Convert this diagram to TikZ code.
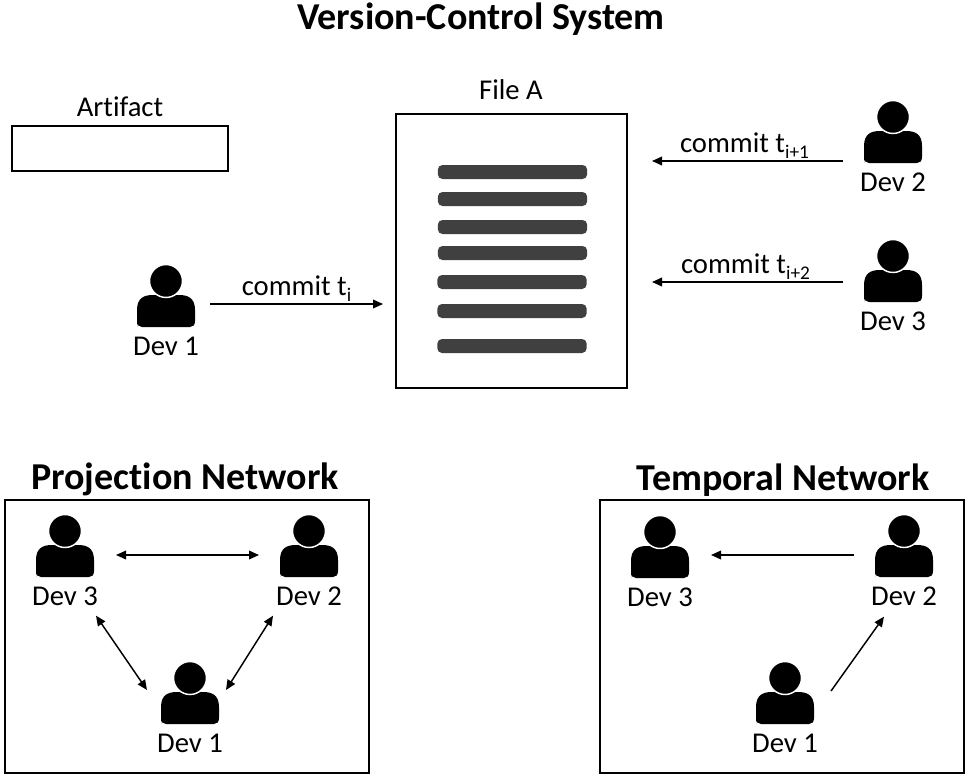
\documentclass[tikz,border=0pt]{standalone}
\usepackage{fontspec}
\setmainfont[Ligatures=NoCommon]{Carlito}
\usetikzlibrary{arrows.meta,calc}
\newcommand{\lowtext}[1]{\raisebox{-0.22em}{\fontsize{14.5}{15}\selectfont #1}}
\tikzset{
  x=0.75pt,y=-0.75pt,
  boxed/.style={draw=black,line width=1.35pt,fill=white,inner sep=0pt,outer sep=0pt,anchor=north west},
  bar/.style={fill=black!75,rounded corners=3.5pt,draw=none,minimum height=10.5pt,minimum width=112pt,inner sep=0pt},
  lbl/.style={font=\fontsize{21.5}{23}\selectfont,inner sep=0pt},
  head/.style={font=\fontsize{28.5}{30}\selectfont\bfseries,inner sep=0pt},
  arr/.style={line width=1.1pt,-{Triangle[length=7.5pt,width=6.5pt]}},
  darr/.style={line width=1.1pt,{Triangle[length=7.5pt,width=6.5pt]}-{Triangle[length=7.5pt,width=6.5pt]}},
  person/.style={minimum width=43.5pt,minimum height=46.5pt,inner sep=0pt,outer sep=0pt,
    path picture={
      \begin{scope}[shift={(path picture bounding box.center)}]
        \fill[black] (-29,31) .. controls (-29,31) and (-29,19) .. (-29,14)
          .. controls (-29,2) and (-22,-1) .. (-13,-1)
          -- (13,-1) .. controls (22,-1) and (29,2) .. (29,14)
          -- (29,25) .. controls (29,29) and (27,31) .. (24,31) -- (-24,31)
          .. controls (-27,31) and (-29,29) .. (-29,25) -- cycle;
        \fill[black,draw=white,line width=1.1pt] (0,-15) circle (16.5);
      \end{scope}
    }},
}
\begin{document}
\begin{tikzpicture}
\useasboundingbox (0,0) rectangle (969,778);
\node[head] (title) at (481,19) {Version-Control System};
\node[lbl] (artlabel) at (120,107) {Artifact};
\node[boxed,minimum width=162pt,minimum height=33.75pt] (artifact) at (12,126) {};
\node[lbl] (filelabel) at (511,90) {File A};
\node[boxed,minimum width=173.25pt,minimum height=205.5pt] (file) at (396,114) {};
\node[bar] (b1) at (512.5,172) {};
\node[bar] (b2) at (512.5,199) {};
\node[bar] (b3) at (512.5,227) {};
\node[bar] (b4) at (512.5,253) {};
\node[bar] (b5) at (512,282) {};
\node[bar] (b6) at (512,311) {};
\node[bar] (b7) at (512,346) {};

\node[person] (d1) at (166,296) {};
\node[lbl] (d1l) at (166,346) {Dev 1};
\node[person] (d2) at (893,132) {};
\node[lbl] (d2l) at (893,182) {Dev 2};
\node[person] (d3) at (893,271) {};
\node[lbl] (d3l) at (893,321) {Dev 3};

\draw[arr] ([shift={(15,8)}]d1.east) -- node[lbl,above=1pt,pos=.5] (c1) {commit t\lowtext{i}} ([shift={(-13,53)}]file.west);
\draw[arr] ([shift={(-21,29)}]d2.west) -- node[lbl,above=1pt,pos=.5,xshift=-2.25pt] (c2) {commit t\lowtext{i+1}} ([shift={(25,-90)}]file.east);
\draw[arr] ([shift={(-21,11)}]d3.west) -- node[lbl,above=1pt,pos=.5,xshift=-1.5pt] (c3) {commit t\lowtext{i+2}} ([shift={(25,31)}]file.east);

\node[head] (ptitle) at (185,479) {Projection Network};
\node[boxed,minimum width=273pt,minimum height=204.75pt] (pbox) at (5,500) {};
\node[person] (p3) at (65,546) {};
\node[lbl] (p3l) at (65,596) {Dev 3};
\node[person] (p2) at (309,546) {};
\node[lbl] (p2l) at (309,596) {Dev 2};
\node[person] (p1) at (190,693) {};
\node[lbl] (p1l) at (190,743) {Dev 1};
\draw[darr] ([shift={(22,9)}]p3.east) -- ([shift={(-21,9)}]p2.west);
\draw[darr] ($(p3l.south)+(31,10)$) -- ($(p1.west)+(-14,-3)$);
\draw[darr] ($(p2l.south)+(-36,10)$) -- ($(p1.east)+(7,-3)$);

\node[head] (ttitle) at (783,480) {Temporal Network};
\node[boxed,minimum width=273pt,minimum height=204.75pt] (tbox) at (600,500) {};
\node[person] (t3) at (660,547) {};
\node[lbl] (t3l) at (660,597) {Dev 3};
\node[person] (t2) at (904,546) {};
\node[lbl] (t2l) at (904,596) {Dev 2};
\node[person] (t1) at (785,693) {};
\node[lbl] (t1l) at (785,743) {Dev 1};
\draw[arr] ([shift={(-21,9)}]t2.west) -- ([shift={(22,8)}]t3.east);
\draw[arr] ($(t1.east)+(17,-2)$) -- ($(t2l.south)+(-20,11)$);
\end{tikzpicture}
\end{document}
